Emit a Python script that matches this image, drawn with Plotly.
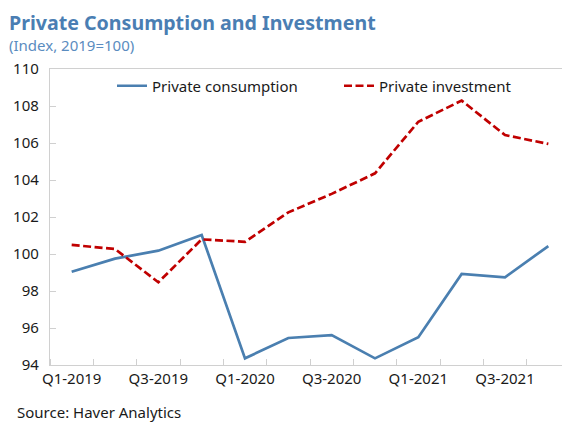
import plotly.graph_objects as go

quarters = ["Q1-2019", "Q2-2019", "Q3-2019", "Q4-2019",
            "Q1-2020", "Q2-2020", "Q3-2020", "Q4-2020",
            "Q1-2021", "Q2-2021", "Q3-2021", "Q4-2021"]
consumption = [99.04, 99.75, 100.18, 101.03, 94.36, 95.46, 95.62, 94.36, 95.5, 98.92, 98.74, 100.43]
investment = [100.49, 100.27, 98.47, 100.79, 100.66, 102.25, 103.25, 104.36, 107.15, 108.29, 106.43, 105.95]
y_ticks = [94, 96, 98, 100, 102, 104, 106, 108, 110]

idx = list(range(len(quarters)))
FONT = "Noto Sans"
OFF = 8                      # default page body margin
W, H = 570 - OFF, 423 - OFF  # figure size
# plot area in screen pixels: left 50, right 570, top 69, bottom 365
L, R, T, B = 50 - OFF, 0, 69 - OFF, 423 - 365

def px(x):  # screen x -> paper
    return (x - OFF - L) / (W - L - R)

def py(y):  # screen y -> paper
    return (H - B - (y - OFF)) / (H - T - B)

fig = go.Figure()
fig.add_trace(go.Scatter(
    x=idx, y=consumption, mode="lines", name="Private consumption",
    line=dict(color="#4a7fb0", width=2.7), legend="legend", showlegend=True))
fig.add_trace(go.Scatter(
    x=idx, y=investment, mode="lines", name="Private investment",
    line=dict(color="#c00000", width=2.7, dash="8px,3.5px"), legend="legend2", showlegend=True))

leg_common = dict(orientation="h", bgcolor="rgba(0,0,0,0)",
                  font=dict(family=FONT, size=15, color="#1a1a1a"),
                  yanchor="middle", xanchor="left", itemwidth=30)

fig.update_layout(
    width=W, height=H, showlegend=True,
    margin=dict(l=L, r=R, t=T, b=B, autoexpand=False),
    paper_bgcolor="white", plot_bgcolor="white",
    font=dict(family=FONT, size=15, color="#1a1a1a"),
    legend=dict(x=px(112), y=py(86), visible=True, **leg_common),
    legend2=dict(x=px(339), y=py(86), visible=True, **leg_common),
    xaxis=dict(
        range=[-0.5, len(quarters) - 0.5], automargin=False,
        tickmode="array", tickvals=idx[::2], ticktext=quarters[::2],
        ticks="", showgrid=False, zeroline=False,
        showline=True, linecolor="#d0d0d0", linewidth=1.3, mirror=True,
        tickfont=dict(family=FONT, size=15, color="#1a1a1a"),
        minor=dict(ticks="inside", tickmode="linear", tick0=0.5, dtick=1,
                   ticklen=6, tickcolor="#d0d0d0", tickwidth=1.3, showgrid=False),
    ),
    yaxis=dict(
        range=[94, 110], tickmode="array", tickvals=y_ticks, automargin=False,
        ticks="inside", ticklen=6, tickcolor="#d0d0d0", tickwidth=1.3,
        showgrid=False, zeroline=False,
        showline=True, linecolor="#d0d0d0", linewidth=1.3,
        tickfont=dict(family=FONT, size=15, color="#1a1a1a"),
        ticklabelstandoff=7,
    ),
)

ann = [
    ("<b>Private Consumption and Investment</b>", 8, 8, 19.6, "#4a7eb3", "top"),
    ("(Index, 2019=100)", 8, 45, 15, "#5a8cc0", "middle"),
    ("Source: Haver Analytics", 16, 412, 15, "#1a1a1a", "middle"),
]
for text, x, y, size, color, ya in ann:
    fig.add_annotation(text=text, x=px(x), y=py(y), xref="paper", yref="paper",
                       showarrow=False, xanchor="left", yanchor=ya, borderpad=0,
                       font=dict(family=FONT, size=size, color=color))

fig.write_html("out.html")
